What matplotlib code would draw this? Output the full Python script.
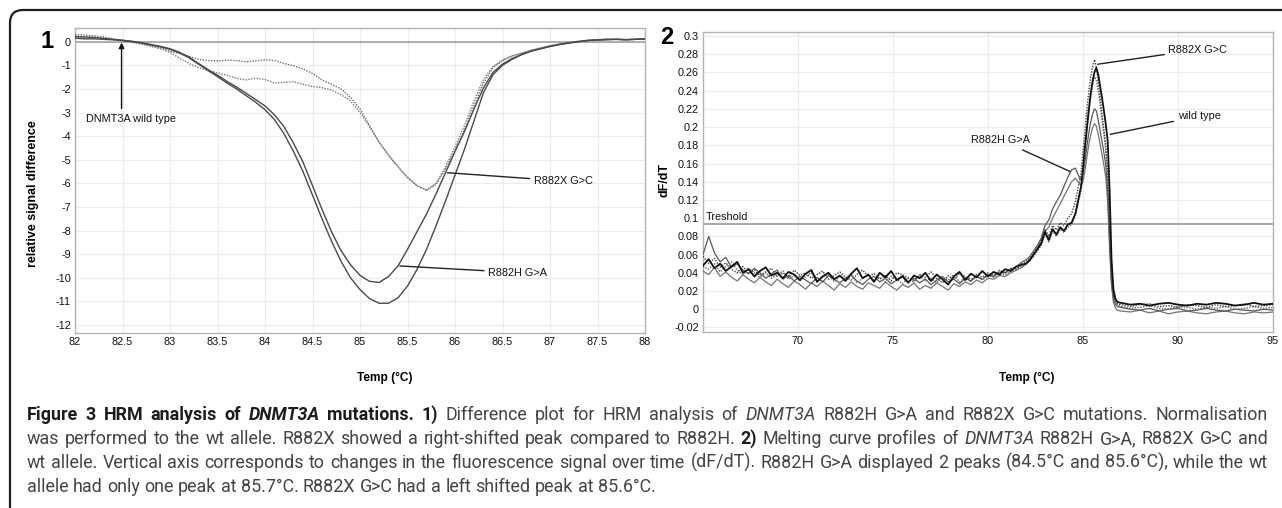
import numpy as np
import matplotlib
matplotlib.use("Agg")
import matplotlib.pyplot as plt
from matplotlib import font_manager as fm
from matplotlib.patches import FancyBboxPatch
from matplotlib.transforms import IdentityTransform

W, H, DPI = 1282, 508, 100

# ---- panel 1: difference plot (relative signal difference vs temp) ----
temp1 = np.round(np.arange(82.0, 88.001, 0.1), 1)
r882h_a_diff = [0.22, 0.20, 0.18, 0.14, 0.10, 0.06, 0.02, -0.04, -0.12, -0.20,
                -0.30, -0.45, -0.65, -0.92, -1.18, -1.42, -1.68, -1.92, -2.18, -2.45,
                -2.72, -3.10, -3.60, -4.30, -5.10, -6.10, -7.10, -8.05, -8.85, -9.45,
                -9.90, -10.15, -10.20, -9.95, -9.50, -8.80, -8.05, -7.30, -6.45, -5.55,
                -4.65, -3.80, -2.85, -1.95, -1.30, -0.95, -0.72, -0.55, -0.40, -0.30,
                -0.20, -0.12, -0.05, 0.00, 0.05, 0.08, 0.10, 0.10, 0.08, 0.10, 0.12]
r882h_b_diff = [0.15, 0.12, 0.12, 0.10, 0.08, 0.05, 0.00, -0.06, -0.14, -0.22,
                -0.32, -0.48, -0.68, -0.95, -1.22, -1.48, -1.75, -2.00, -2.28, -2.56,
                -2.88, -3.30, -3.90, -4.65, -5.50, -6.50, -7.50, -8.45, -9.30, -10.00,
                -10.50, -10.88, -11.08, -11.08, -10.85, -10.35, -9.65, -8.80, -7.80, -6.75,
                -5.65, -4.55, -3.35, -2.15, -1.40, -1.00, -0.75, -0.55, -0.40, -0.30,
                -0.20, -0.12, -0.06, 0.00, 0.05, 0.07, 0.08, 0.10, 0.09, 0.10, 0.12]
r882x_a_diff = [0.30, 0.28, 0.25, 0.20, 0.12, 0.06, 0.00, -0.08, -0.18, -0.28,
                -0.40, -0.50, -0.62, -0.75, -0.80, -0.82, -0.78, -0.80, -0.85, -0.82,
                -0.76, -0.80, -0.92, -1.02, -1.15, -1.35, -1.62, -1.80, -2.00, -2.35,
                -2.85, -3.55, -4.25, -4.80, -5.30, -5.75, -6.10, -6.30, -6.05, -5.40,
                -4.60, -3.75, -2.70, -1.75, -1.10, -0.80, -0.62, -0.50, -0.38, -0.28,
                -0.18, -0.10, -0.04, 0.02, 0.06, 0.08, 0.10, 0.10, 0.09, 0.10, 0.11]
r882x_b_diff = [0.20, 0.20, 0.17, 0.14, 0.10, 0.05, -0.02, -0.10, -0.20, -0.30,
                -0.45, -0.70, -0.92, -1.10, -1.22, -1.32, -1.42, -1.55, -1.62, -1.55,
                -1.60, -1.75, -1.72, -1.70, -1.80, -1.90, -1.95, -2.05, -2.25, -2.50,
                -3.00, -3.60, -4.25, -4.80, -5.30, -5.75, -6.10, -6.28, -6.00, -5.30,
                -4.45, -3.55, -2.50, -1.60, -1.05, -0.78, -0.60, -0.48, -0.36, -0.26,
                -0.17, -0.10, -0.04, 0.02, 0.06, 0.08, 0.10, 0.10, 0.08, 0.10, 0.11]
wt_diff = np.zeros(len(temp1))  # wild type is the normalisation reference
xticks1 = np.arange(82.0, 88.01, 0.5)
yticks1 = np.arange(-12, 1, 1)

# ---- panel 2: melting curves dF/dT ----
temp2 = np.round(np.concatenate([np.arange(65.0, 81.81, 0.3),
                                 np.arange(82.0, 84.81, 0.2),
                                 np.arange(84.9, 86.81, 0.1),
                                 np.arange(87.0, 95.01, 0.5)]), 1)
wt_dfdt = [0.048, 0.055, 0.045, 0.050, 0.042, 0.047, 0.052, 0.040, 0.044, 0.036,
           0.042, 0.046, 0.037, 0.040, 0.034, 0.041, 0.038, 0.032, 0.039, 0.043,
           0.030, 0.036, 0.040, 0.033, 0.037, 0.031, 0.039, 0.045, 0.034, 0.038,
           0.030, 0.040, 0.035, 0.042, 0.032, 0.036, 0.029, 0.037, 0.034, 0.040,
           0.031, 0.038, 0.033, 0.027, 0.036, 0.041, 0.032, 0.039, 0.035, 0.042,
           0.036, 0.041, 0.038, 0.044, 0.042, 0.047, 0.049,
           0.050, 0.054, 0.060, 0.066, 0.072, 0.085, 0.076, 0.088, 0.082, 0.090, 0.086, 0.093, 0.095, 0.105, 0.125,
           0.135, 0.155, 0.178, 0.198, 0.218, 0.236, 0.250, 0.260, 0.265, 0.258,
           0.245, 0.232, 0.218, 0.203, 0.185, 0.130, 0.055, 0.022, 0.012, 0.008,
           0.007, 0.005, 0.006, 0.004, 0.006, 0.007, 0.005, 0.004, 0.006, 0.005, 0.007, 0.006, 0.004, 0.005,
           0.007, 0.005, 0.006]
r882x_a_dfdt = [0.058, 0.050, 0.056, 0.046, 0.051, 0.044, 0.040, 0.047, 0.039, 0.043,
                0.037, 0.041, 0.045, 0.036, 0.040, 0.035, 0.043, 0.037, 0.040, 0.034,
                0.038, 0.042, 0.033, 0.037, 0.041, 0.035, 0.032, 0.038, 0.043, 0.036,
                0.039, 0.033, 0.037, 0.031, 0.040, 0.038, 0.034, 0.030, 0.038, 0.035,
                0.041, 0.034, 0.029, 0.037, 0.033, 0.039, 0.036, 0.031, 0.038, 0.035,
                0.040, 0.037, 0.043, 0.040, 0.045, 0.044, 0.050,
                0.052, 0.056, 0.062, 0.068, 0.076, 0.088, 0.080, 0.092, 0.087, 0.095, 0.092, 0.100, 0.105, 0.118, 0.140,
                0.150, 0.172, 0.196, 0.218, 0.238, 0.254, 0.266, 0.274, 0.266, 0.250,
                0.232, 0.215, 0.198, 0.180, 0.150, 0.090, 0.035, 0.016, 0.010, 0.006,
                0.005, 0.003, 0.005, 0.006, 0.003, 0.004, 0.002, 0.005, 0.004, 0.002, 0.005, 0.003, 0.004, 0.006,
                0.003, 0.004, 0.005]
r882x_b_dfdt = [0.047, 0.044, 0.050, 0.041, 0.047, 0.052, 0.043, 0.038, 0.045, 0.040,
                0.035, 0.040, 0.034, 0.038, 0.042, 0.033, 0.037, 0.031, 0.036, 0.040,
                0.032, 0.035, 0.039, 0.030, 0.036, 0.033, 0.037, 0.029, 0.034, 0.038,
                0.032, 0.035, 0.030, 0.036, 0.033, 0.028, 0.035, 0.032, 0.037, 0.031,
                0.034, 0.029, 0.035, 0.032, 0.038, 0.030, 0.035, 0.033, 0.036, 0.032,
                0.037, 0.035, 0.039, 0.038, 0.042, 0.045, 0.047,
                0.049, 0.053, 0.058, 0.064, 0.070, 0.082, 0.074, 0.086, 0.080, 0.088, 0.084, 0.090, 0.093, 0.103, 0.122,
                0.130, 0.150, 0.172, 0.195, 0.215, 0.232, 0.246, 0.255, 0.252, 0.240,
                0.225, 0.208, 0.192, 0.174, 0.140, 0.080, 0.032, 0.014, 0.008, 0.005,
                0.003, 0.001, 0.002, 0.004, 0.001, 0.000, 0.003, 0.002, 0.000, 0.002, 0.001, 0.003, 0.000, 0.001,
                0.003, 0.001, 0.002]
r882h_a_dfdt = [0.060, 0.080, 0.062, 0.052, 0.057, 0.046, 0.050, 0.043, 0.039, 0.045,
                0.040, 0.034, 0.039, 0.043, 0.033, 0.037, 0.031, 0.036, 0.032, 0.028,
                0.035, 0.030, 0.037, 0.033, 0.029, 0.034, 0.038, 0.031, 0.027, 0.033,
                0.036, 0.030, 0.034, 0.028, 0.032, 0.037, 0.030, 0.034, 0.029, 0.033,
                0.027, 0.032, 0.036, 0.030, 0.033, 0.028, 0.034, 0.031, 0.036, 0.033,
                0.038, 0.036, 0.041, 0.040, 0.044, 0.047, 0.052,
                0.054, 0.058, 0.064, 0.070, 0.078, 0.092, 0.098, 0.110, 0.118, 0.125, 0.135, 0.145, 0.153, 0.155, 0.145,
                0.142, 0.148, 0.162, 0.178, 0.193, 0.205, 0.214, 0.220, 0.218, 0.208,
                0.196, 0.184, 0.172, 0.158, 0.128, 0.075, 0.030, 0.012, 0.006, 0.003,
                0.002, 0.000, -0.001, 0.001, -0.002, 0.000, 0.001, -0.002, -0.001, 0.001, -0.001, -0.002, 0.000,
                -0.001, -0.002, 0.000, -0.001]
r882h_b_dfdt = [0.042, 0.038, 0.046, 0.036, 0.041, 0.035, 0.031, 0.038, 0.033, 0.029,
                0.035, 0.030, 0.026, 0.033, 0.028, 0.024, 0.031, 0.027, 0.022, 0.029,
                0.025, 0.031, 0.026, 0.021, 0.028, 0.024, 0.030, 0.025, 0.022, 0.029,
                0.026, 0.023, 0.030, 0.025, 0.021, 0.027, 0.024, 0.029, 0.022, 0.026,
                0.023, 0.029, 0.025, 0.021, 0.028, 0.025, 0.030, 0.027, 0.032, 0.029,
                0.034, 0.033, 0.037, 0.036, 0.040, 0.043, 0.046,
                0.050, 0.054, 0.060, 0.066, 0.074, 0.086, 0.090, 0.100, 0.108, 0.116, 0.124, 0.132, 0.140, 0.144, 0.138,
                0.136, 0.140, 0.152, 0.166, 0.180, 0.191, 0.199, 0.204, 0.201, 0.192,
                0.181, 0.170, 0.158, 0.145, 0.118, 0.068, 0.026, 0.008, 0.002, -0.001,
                -0.002, -0.003, -0.001, -0.004, -0.002, -0.005, -0.003, -0.002, -0.004, -0.005, -0.003, -0.002,
                -0.004, -0.005, -0.003, -0.004, -0.003]
threshold = 0.094
xticks2 = [70, 75, 80, 85, 90, 95]
yticks2 = np.round(np.arange(-0.02, 0.301, 0.02), 2)

caption = [
    [("Figure 3 HRM analysis of", "bold", "normal"), ("DNMT3A", "bold", "italic"),
     ("mutations. 1)", "bold", "normal"), ("Difference plot for HRM analysis of", "normal", "normal"),
     ("DNMT3A", "normal", "italic"), ("R882H G>A and R882X G>C mutations. Normalisation", "normal", "normal")],
    [("was performed to the wt allele. R882X showed a right-shifted peak compared to R882H.", "normal", "normal"),
     ("2)", "bold", "normal"), ("Melting curve profiles of", "normal", "normal"), ("DNMT3A", "normal", "italic"),
     ("R882H G>A, R882X G>C and", "normal", "normal")],
    [("wt allele. Vertical axis corresponds to changes in the fluorescence signal over time (dF/dT). "
      "R882H G>A displayed 2 peaks (84.5°C and 85.6°C), while the wt", "normal", "normal")],
    [("allele had only one peak at 85.7°C. R882X G>C had a left shifted peak at 85.6°C.", "normal", "normal")],
]


def pick_font(names, fallback):
    for name in names:
        try:
            fm.findfont(fm.FontProperties(family=name), fallback_to_default=False)
            return name
        except ValueError:
            pass
    return fallback


CHART_FONT = ["Liberation Sans", "DejaVu Sans"]
CAP_FONT = [pick_font(["Roboto", "Liberation Sans"], "DejaVu Sans"), "DejaVu Sans"]
plt.rcParams["font.family"] = CHART_FONT


def px_axes(fig, left, top, right, bottom):
    return fig.add_axes([left / W, 1 - bottom / H, (right - left) / W, (bottom - top) / H])


def style_axes(ax):
    for s in ax.spines.values():
        s.set_color("#b4b4b4")
        s.set_linewidth(1.0)
    ax.grid(True, color="#ececec", lw=0.8)
    ax.set_axisbelow(True)
    ax.tick_params(length=0, pad=3, labelsize=7.8, colors="#111111")


fig = plt.figure(figsize=(W / DPI, H / DPI), dpi=DPI)

# frame around the whole figure (rounded corner top-left, runs off the page)
frame = FancyBboxPatch((10, -60), W + 100, H - 10 + 60, boxstyle="round,pad=0,rounding_size=13",
                       transform=IdentityTransform(), fill=False, ec="#1e1e1e", lw=1.6)
fig.add_artist(frame)

# ---- panel 1 ----
ax1 = px_axes(fig, 75, 28, 645, 333)
style_axes(ax1)
ax1.plot(temp1, wt_diff, color="#9a9a9a", lw=1.1, zorder=2)
ax1.plot(temp1, r882x_a_diff, color="#6e6e6e", lw=1.0, ls=(0, (1, 1)), zorder=3)
ax1.plot(temp1, r882x_b_diff, color="#7a7a7a", lw=1.0, ls=(0, (1, 1)), zorder=3)
ax1.plot(temp1, r882h_a_diff, color="#4a4a4a", lw=1.0, zorder=3)
ax1.plot(temp1, r882h_b_diff, color="#4a4a4a", lw=1.0, zorder=3)
ax1.set_xlim(82, 88)
ax1.set_ylim(-12.34, 0.58)
ax1.set_xticks(xticks1, ["%g" % v for v in xticks1])
ax1.set_yticks(yticks1, ["%d" % v for v in yticks1])

ax1.text(82.12, -3.26, "DNMT3A wild type", fontsize=7.8, va="center", ha="left", color="#111111")
ax1.annotate("", xy=(82.49, 0.08), xytext=(82.49, -2.95),
             arrowprops=dict(arrowstyle="-|>", color="#111111", lw=1.0, mutation_scale=8))
ax1.annotate("R882X G>C", xy=(85.92, -5.55), xytext=(86.83, -5.9), fontsize=7.8, va="center",
             ha="left", color="#111111", arrowprops=dict(arrowstyle="-", color="#222222", lw=1.0,
                                                         shrinkA=1, shrinkB=0))
ax1.annotate("R882H G>A", xy=(85.42, -9.5), xytext=(86.35, -9.78), fontsize=7.8, va="center",
             ha="left", color="#111111", arrowprops=dict(arrowstyle="-", color="#222222", lw=1.0,
                                                         shrinkA=1, shrinkB=0))

# ---- panel 2 ----
ax2 = px_axes(fig, 703, 32, 1273, 332)
style_axes(ax2)
ax2.axhline(threshold, color="#a0a0a0", lw=1.3, zorder=2)
ax2.plot(temp2, r882h_b_dfdt, color="#757575", lw=0.9, zorder=3)
ax2.plot(temp2, r882h_a_dfdt, color="#5a5a5a", lw=0.9, zorder=3)
ax2.plot(temp2, r882x_b_dfdt, color="#666666", lw=1.0, ls=(0, (1, 1)), zorder=3)
ax2.plot(temp2, r882x_a_dfdt, color="#444444", lw=1.0, ls=(0, (1, 1)), zorder=3)
ax2.plot(temp2, wt_dfdt, color="#111111", lw=1.3, zorder=4)
ax2.set_xlim(65, 95)
ax2.set_ylim(-0.025, 0.3044)
ax2.set_xticks(xticks2, [str(v) for v in xticks2])
ax2.set_yticks(yticks2, ["%g" % v for v in yticks2])

ax2.text(65.15, threshold + 0.002, "Treshold", fontsize=7.8, va="bottom", ha="left", color="#111111")
ax2.annotate("R882X G>C", xy=(85.77, 0.269), xytext=(89.5, 0.285), fontsize=7.8, va="center",
             ha="left", color="#111111", arrowprops=dict(arrowstyle="-", color="#222222", lw=1.0,
                                                         shrinkA=1, shrinkB=0))
ax2.annotate("wild type", xy=(86.43, 0.192), xytext=(89.98, 0.212), fontsize=7.8, va="center",
             ha="left", color="#111111", arrowprops=dict(arrowstyle="-", color="#222222", lw=1.0,
                                                         shrinkA=1, shrinkB=0))
ax2.annotate("R882H G>A", xy=(84.34, 0.151), xytext=(80.65, 0.186), fontsize=7.8, va="center",
             ha="center", color="#111111", arrowprops=dict(arrowstyle="-", color="#222222", lw=1.0,
                                                           shrinkA=4, shrinkB=0))

# panel numbers and axis titles
fig.text(47 / W, 1 - 42 / H, "1", fontsize=17, fontweight="bold", ha="center", va="center")
fig.text(667 / W, 1 - 38 / H, "2", fontsize=17, fontweight="bold", ha="center", va="center")
fig.text(33 / W, 1 - 194 / H, "relative signal difference", fontsize=9, fontweight="bold",
         rotation=90, ha="center", va="center")
fig.text(665 / W, 1 - 180 / H, "dF/dT", fontsize=9, fontweight="bold", rotation=90,
         ha="center", va="center")
fig.text(385 / W, 1 - 378 / H, "Temp (°C)", fontsize=8.6, fontweight="bold", ha="center", va="center")
fig.text(1027 / W, 1 - 378 / H, "Temp (°C)", fontsize=8.6, fontweight="bold", ha="center", va="center")

# ---- caption, justified word by word ----
renderer = fig.canvas.get_renderer()
cap_x0, cap_x1 = 27, 1268
cap_base = [420, 444, 468, 492]


def make_words(line, fs):
    arts = []
    for text, weight, style in line:
        for w in text.split():
            arts.append(fig.text(0, 0, w, fontsize=fs, fontweight=weight, fontstyle=style,
                                 family=CAP_FONT, ha="left", va="baseline",
                                 color="#1c1c1c" if weight == "bold" else "#444444"))
    widths = [a.get_window_extent(renderer).width for a in arts]
    return arts, widths


def space_width(fs):
    a = fig.text(0, 0, "a a", fontsize=fs, family=CAP_FONT)
    b = fig.text(0, 0, "aa", fontsize=fs, family=CAP_FONT)
    w = a.get_window_extent(renderer).width - b.get_window_extent(renderer).width
    a.remove()
    b.remove()
    return w


fs0 = 11.0
sp0 = space_width(fs0)
ratios = []
for line in caption[:3]:
    arts, widths = make_words(line, fs0)
    ratios.append((cap_x1 - cap_x0) / (sum(widths) + sp0 * (len(widths) - 1)))
    for a in arts:
        a.remove()
fs = min(13.0, fs0 * min(ratios) * 0.99)
sp = space_width(fs)

for i, line in enumerate(caption):
    arts, widths = make_words(line, fs)
    if i < 3 and len(arts) > 1:
        gap = (cap_x1 - cap_x0 - sum(widths)) / (len(arts) - 1)
    else:
        gap = sp
    x = cap_x0
    for a, w in zip(arts, widths):
        a.set_position((x / W, 1 - cap_base[i] / H))
        x += w + gap

fig.savefig("out.png", dpi=DPI)
